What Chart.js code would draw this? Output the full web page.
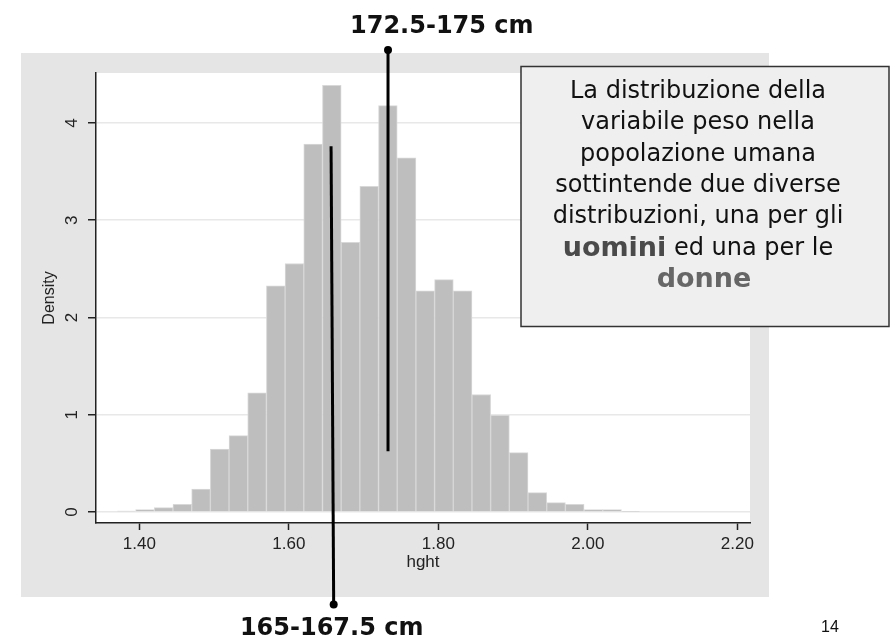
<!DOCTYPE html>
<html>
<head>
<meta charset="utf-8">
<script src="https://cdn.jsdelivr.net/npm/chart.js@4.4.0/dist/chart.umd.min.js"></script>
<style>
html, body { margin: 0; padding: 0; background: #fff; }
</style>
</head>
<body>
<canvas id="histChart" width="895" height="641"></canvas>
<script>
// histogram of hght, bins 0.025 wide (centres), density
var binCenters = [1.3825, 1.4075, 1.4325, 1.4575, 1.4825, 1.5075, 1.5325, 1.5575, 1.5825, 1.6075,
                  1.6325, 1.6575, 1.6825, 1.7075, 1.7325, 1.7575, 1.7825, 1.8075, 1.8325, 1.8575,
                  1.8825, 1.9075, 1.9325, 1.9575, 1.9825, 2.0075, 2.0325, 2.0575];
var density = [0.01, 0.025, 0.045, 0.08, 0.237, 0.648, 0.786, 1.225, 2.326, 2.555,
               3.783, 4.387, 2.772, 3.348, 4.178, 3.642, 2.274, 2.39, 2.274, 1.208,
               0.995, 0.611, 0.2, 0.097, 0.079, 0.025, 0.025, 0.007];

var xTicks = [1.40, 1.60, 1.80, 2.00, 2.20];
var xTickLabels = ["1.40", "1.60", "1.80", "2.00", "2.20"];
var yTicks = [0, 1, 2, 3, 4];
var yTickLabels = ["0", "1", "2", "3", "4"];

// pointer lines: first point is the plain end, second one carries the dot
var lowerPointerX = [1.6565, 1.660];
var lowerPointerY = [3.76, -0.95];
var upperPointerX = [1.7327, 1.7327];
var upperPointerY = [0.625, 4.75];

var lowerLabel = "165-167.5 cm";
var upperLabel = "172.5-175 cm";
var pageNumber = "14";

// note text, each line is a list of [text, style] (0 normal, 1 uomini, 2 donne)
var noteLines = [
    [["La distribuzione della", 0]],
    [["variabile peso nella", 0]],
    [["popolazione umana", 0]],
    [["sottintende due diverse", 0]],
    [["distribuzioni, una per gli", 0]],
    [["uomini", 1], [" ed una per le", 0]],
    [["donne", 2]]
];

function toPoints(xs, ys) {
    var out = [];
    for (var i = 0; i < xs.length; i++) out.push({x: xs[i], y: ys[i]});
    return out;
}

var panelPlugin = {
    id: "panel",
    beforeDraw: function (chart) {
        var ctx = chart.ctx, a = chart.chartArea;
        ctx.save();
        ctx.fillStyle = "#fff";
        ctx.fillRect(0, 0, chart.width, chart.height);
        ctx.fillStyle = "#e5e5e5";
        ctx.fillRect(21, 53, 748, 544);
        ctx.fillStyle = "#fff";
        ctx.fillRect(a.left, a.top, a.right - a.left, a.bottom - a.top);
        ctx.restore();
    }
};

var notePlugin = {
    id: "note",
    afterDraw: function (chart) {
        var ctx = chart.ctx;
        var xs = chart.scales.x, ys = chart.scales.y;
        ctx.save();

        // dots at the outer ends of the pointers (outside the plot area)
        ctx.fillStyle = "#000";
        [[lowerPointerX[1], lowerPointerY[1]], [upperPointerX[1], upperPointerY[1]]].forEach(function (p) {
            ctx.beginPath();
            ctx.arc(xs.getPixelForValue(p[0]), ys.getPixelForValue(p[1]), 4, 0, Math.PI * 2);
            ctx.fill();
        });

        // pointer labels
        ctx.fillStyle = "#111";
        ctx.font = "bold 24px 'DejaVu Sans'";
        ctx.textBaseline = "alphabetic";
        ctx.textAlign = "left";
        ctx.fillText(upperLabel, xs.getPixelForValue(upperPointerX[1]) - 38, 33);
        ctx.textAlign = "center";
        ctx.fillText(lowerLabel, xs.getPixelForValue(lowerPointerX[1]) - 2, 635);

        // text box
        var bx = 521, by = 66.5, bw = 368, bh = 260;
        ctx.fillStyle = "#efefef";
        ctx.fillRect(bx, by, bw, bh);
        ctx.strokeStyle = "#333";
        ctx.lineWidth = 1.5;
        ctx.strokeRect(bx, by, bw, bh);

        var fonts = ["24px 'DejaVu Sans'", "bold 27px 'DejaVu Sans'", "bold 27px 'DejaVu Sans'"];
        var colors = ["#111", "#4a4a4a", "#666"];
        var cx = 698;
        ctx.textBaseline = "middle";
        ctx.textAlign = "left";
        for (var i = 0; i < noteLines.length; i++) {
            var segs = noteLines[i], total = 0, k;
            for (k = 0; k < segs.length; k++) {
                ctx.font = fonts[segs[k][1]];
                total += ctx.measureText(segs[k][0]).width;
            }
            var x = cx - total / 2, y = 91.5 + i * 31.4;
            if (i === noteLines.length - 1) x += 6;
            for (k = 0; k < segs.length; k++) {
                ctx.font = fonts[segs[k][1]];
                ctx.fillStyle = colors[segs[k][1]];
                ctx.fillText(segs[k][0], x, y);
                x += ctx.measureText(segs[k][0]).width;
            }
        }

        // page number
        ctx.fillStyle = "#111";
        ctx.font = "16px 'Liberation Sans'";
        ctx.textAlign = "center";
        ctx.fillText(pageNumber, 830, 628);
        ctx.restore();
    }
};

new Chart("histChart", {
    type: "bar",
    data: {
        datasets: [{
            type: "line",
            data: toPoints(lowerPointerX, lowerPointerY),
            borderColor: "#000",
            borderWidth: 3,
            pointRadius: 0,
            clip: false,
            order: 0
        }, {
            type: "line",
            data: toPoints(upperPointerX, upperPointerY),
            borderColor: "#000",
            borderWidth: 3,
            pointRadius: 0,
            clip: false,
            order: 0
        }, {
            type: "bar",
            data: toPoints(binCenters, density),
            backgroundColor: "#bebebe",
            borderColor: "#d8d8d8",
            borderWidth: 1,
            barPercentage: 1,
            categoryPercentage: 1,
            grouped: false,
            order: 1
        }]
    },
    options: {
        responsive: false,
        animation: false,
        events: [],
        devicePixelRatio: 1,
        layout: { padding: { left: 21, top: 73, right: 145, bottom: 44 } },
        plugins: { legend: { display: false }, tooltip: { enabled: false } },
        scales: {
            x: {
                type: "linear",
                offset: false,
                min: 1.342,
                max: 2.217,
                afterBuildTicks: function (s) { s.ticks = xTicks.map(function (v) { return {value: v}; }); },
                afterFit: function (s) { s.height = 74; },
                grid: { offset: false, drawOnChartArea: false, tickLength: 7, tickColor: "#222", tickWidth: 1.5 },
                border: { color: "#222", width: 1.5 },
                ticks: {
                    font: { family: "Liberation Sans", size: 17 },
                    color: "#222",
                    padding: 4,
                    maxRotation: 0,
                    autoSkip: false,
                    callback: function (v, i) { return xTickLabels[i]; }
                },
                title: {
                    display: true,
                    text: "hght",
                    color: "#222",
                    font: { family: "Liberation Sans", size: 17 },
                    padding: { top: 0, bottom: 24 }
                }
            },
            y: {
                type: "linear",
                min: -0.113,
                max: 4.514,
                afterBuildTicks: function (s) { s.ticks = yTicks.map(function (v) { return {value: v}; }); },
                afterFit: function (s) { s.width = 75; },
                grid: { color: "#e8e8e8", lineWidth: 1.5, tickLength: 8, tickColor: "#222", tickWidth: 1.5 },
                border: { color: "#222", width: 1.5 },
                ticks: {
                    font: { family: "Liberation Sans", size: 17 },
                    color: "#222",
                    padding: 11,
                    minRotation: 90,
                    maxRotation: 90,
                    crossAlign: "center",
                    callback: function (v, i) { return yTickLabels[i]; }
                },
                title: {
                    display: true,
                    text: "Density",
                    color: "#222",
                    font: { family: "Liberation Sans", size: 16 },
                    padding: { top: 19, bottom: 0 }
                }
            }
        }
    },
    plugins: [panelPlugin, notePlugin]
});
</script>
</body>
</html>
